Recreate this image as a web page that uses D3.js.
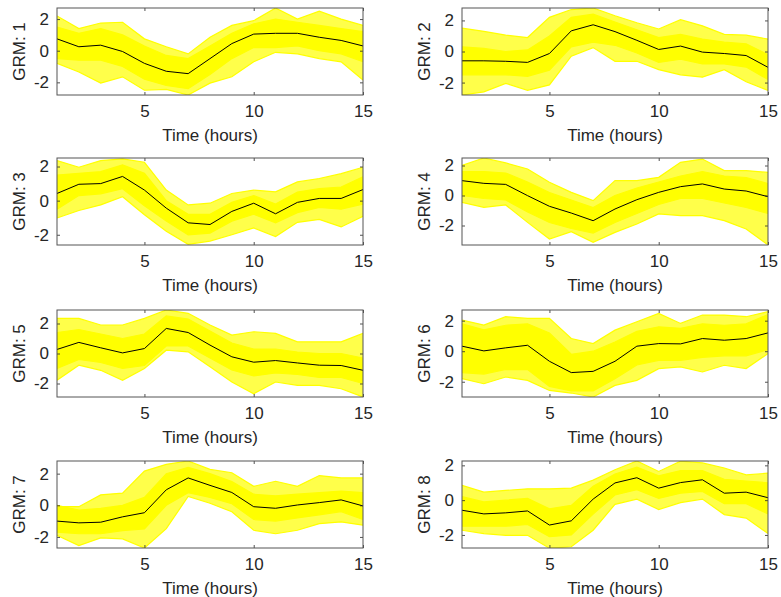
<!DOCTYPE html>
<html>
<head>
<meta charset="utf-8">
<script src="https://cdn.jsdelivr.net/npm/d3@7"></script>
<style>
  body { margin: 0; background: #fff; }
  text { font-family: Helvetica, "Liberation Sans", Arial, sans-serif; fill: #262626; }
</style>
</head>
<body>
<div id="chart"></div>
<script>
// time points (hours)
var times = [1, 2, 3, 4, 5, 6, 7, 8, 9, 10, 11, 12, 13, 14, 15];
var panelNames = ["GRM: 1", "GRM: 2", "GRM: 3", "GRM: 4", "GRM: 5", "GRM: 6", "GRM: 7", "GRM: 8"];
var xTicks = [5, 10, 15];
var yTicks = [-2, 0, 2];

// y limits of every panel (axis tight)
var yLimits = [
  [-2.8, 2.7], [-2.8, 2.8], [-2.6, 2.5], [-3.3, 2.5],
  [-2.9, 2.9], [-3.0, 2.7], [-2.7, 2.8], [-2.75, 2.25]
];

// black line: mean profile of each module
var meanProfiles = [
  [0.75, 0.25, 0.35, -0.05, -0.8, -1.3, -1.45, -0.5, 0.45, 1.05, 1.1, 1.1, 0.85, 0.65, 0.3],
  [-0.6, -0.6, -0.63, -0.7, -0.13, 1.33, 1.72, 1.28, 0.72, 0.13, 0.35, -0.04, -0.13, -0.26, -1.02],
  [0.42, 0.96, 1.0, 1.42, 0.62, -0.44, -1.3, -1.4, -0.63, -0.15, -0.77, -0.1, 0.13, 0.13, 0.65],
  [0.99, 0.81, 0.74, -0.01, -0.72, -1.17, -1.68, -0.9, -0.28, 0.21, 0.59, 0.77, 0.43, 0.3, -0.08],
  [0.27, 0.74, 0.38, 0.04, 0.33, 1.67, 1.4, 0.56, -0.22, -0.58, -0.47, -0.63, -0.78, -0.8, -1.12],
  [0.33, 0.02, 0.22, 0.39, -0.66, -1.4, -1.32, -0.66, 0.33, 0.5, 0.48, 0.83, 0.72, 0.83, 1.2],
  [-1.0, -1.11, -1.07, -0.73, -0.47, 0.98, 1.73, 1.26, 0.81, -0.09, -0.19, 0.02, 0.17, 0.34, -0.04],
  [-0.58, -0.79, -0.73, -0.62, -1.43, -1.19, 0.06, 0.99, 1.29, 0.69, 1.01, 1.17, 0.4, 0.46, 0.14]
];

// outermost yellow profiles (highest / lowest gene at each time)
var upperEdge = [
  [2.2, 1.4, 1.75, 1.8, 0.75, 0.25, -0.2, 0.85, 1.6, 1.9, 2.7, 2.0, 2.5, 2.0, 1.6],
  [1.5, 1.3, 1.05, 0.9, 2.2, 2.7, 2.8, 2.3, 1.85, 1.45, 2.05, 1.65, 1.1, 1.05, 0.8],
  [2.35, 1.96, 2.35, 2.45, 2.25, 0.62, -0.25, -0.15, 0.42, 0.62, 0.52, 1.1, 1.3, 1.58, 1.96],
  [2.0, 2.5, 2.17, 1.77, 0.88, 0.21, -0.34, 0.99, 0.99, 1.21, 2.21, 2.43, 1.66, 1.66, 1.54],
  [2.34, 2.34, 1.9, 1.9, 2.34, 2.9, 2.68, 1.9, 1.23, 1.45, 1.34, 0.78, 0.78, 0.78, 1.34],
  [2.04, 1.71, 2.26, 2.15, 2.15, 0.83, 0.5, 1.38, 1.93, 2.48, 1.82, 2.37, 2.37, 2.26, 2.59],
  [-0.09, -0.09, 0.66, 0.77, 2.16, 2.59, 2.8, 2.27, 2.06, 1.2, 1.52, 1.2, 1.88, 1.73, 1.73],
  [0.85, 0.46, 0.56, 0.65, 0.65, 0.69, 1.15, 1.75, 2.25, 1.65, 2.24, 2.14, 1.85, 1.45, 1.55]
];
var lowerEdge = [
  [-0.8, -1.35, -2.05, -1.65, -2.5, -2.45, -2.8, -2.05, -1.65, -0.7, -0.1, -0.2, -0.5, -0.7, -1.85],
  [-2.8, -2.6, -2.05, -2.5, -2.15, -0.3, 0.25, -0.63, -0.63, -1.17, -1.5, -1.65, -1.17, -1.95, -2.5],
  [-1.02, -0.58, -0.25, 0.23, -0.83, -1.8, -2.56, -2.37, -2.0, -1.6, -2.1, -1.27, -1.1, -1.54, -0.92],
  [-0.46, -0.79, -0.63, -1.79, -2.9, -2.41, -3.12, -2.46, -1.9, -1.23, -1.34, -1.34, -1.68, -2.23, -3.3],
  [-1.79, -0.78, -1.12, -1.79, -1.0, 0.22, 0.11, -0.89, -1.9, -2.68, -1.9, -2.12, -2.12, -2.35, -2.9],
  [-1.8, -2.13, -1.69, -1.91, -2.57, -2.74, -3.0, -2.24, -1.91, -1.14, -1.03, -1.36, -0.92, -1.14, -0.15],
  [-1.9, -2.55, -2.06, -2.12, -2.7, -1.48, 0.56, 0.13, -0.41, -1.58, -1.8, -1.58, -1.16, -1.05, -1.26],
  [-1.73, -1.92, -2.02, -2.02, -2.76, -2.68, -1.73, -0.24, 0.06, -0.54, -0.14, 0.06, -0.83, -1.03, -1.92]
];

// dense (solid yellow) part of the bundle
var coreUpper = [
  [1.5, 1.1, 1.4, 1.0, 0.3, -0.3, -0.5, 0.3, 1.1, 1.7, 2.0, 1.8, 1.6, 1.4, 1.2],
  [0.3, 0.2, 0.0, 0.1, 1.0, 2.2, 2.4, 1.9, 1.4, 0.9, 1.1, 0.8, 0.6, 0.5, -0.2],
  [1.5, 1.6, 1.7, 2.1, 1.6, 0.0, -0.8, -0.8, -0.1, 0.3, -0.2, 0.5, 0.7, 0.8, 1.4],
  [1.6, 1.6, 1.5, 0.9, 0.2, -0.3, -0.8, 0.0, 0.5, 0.9, 1.3, 1.6, 1.3, 1.2, 0.8],
  [1.4, 1.6, 1.3, 1.0, 1.3, 2.5, 2.3, 1.5, 0.7, 0.3, 0.3, 0.1, 0.0, 0.0, -0.3],
  [1.8, 1.4, 1.7, 1.8, 1.2, -0.2, 0.0, 0.6, 1.3, 1.6, 1.5, 1.8, 1.7, 1.8, 2.4],
  [0.0, -0.3, -0.2, 0.0, 0.5, 2.0, 2.4, 2.0, 1.5, 0.7, 0.6, 0.7, 0.8, 0.9, 0.8],
  [0.2, -0.1, 0.0, 0.1, -0.5, -0.3, 0.8, 1.5, 1.9, 1.4, 1.7, 1.7, 1.2, 1.1, 1.0]
];
var coreLower = [
  [-0.5, -0.6, -0.6, -1.0, -1.8, -2.2, -2.4, -1.5, -0.5, 0.2, 0.2, 0.3, 0.0, -0.2, -0.7],
  [-1.5, -1.5, -1.5, -1.6, -1.2, 0.3, 0.6, 0.4, -0.1, -0.7, -0.5, -0.8, -0.8, -1.0, -1.8],
  [-0.5, 0.3, 0.4, 0.7, -0.3, -1.2, -2.0, -1.9, -1.2, -0.8, -1.3, -0.7, -0.4, -0.5, -0.2],
  [0.0, -0.2, -0.3, -1.1, -1.8, -2.2, -2.5, -1.8, -1.2, -0.6, -0.2, -0.2, -0.5, -0.8, -1.2],
  [-1.0, -0.4, -0.6, -1.0, -0.8, 0.5, 0.5, -0.3, -1.1, -1.5, -1.3, -1.4, -1.6, -1.6, -2.0],
  [-1.4, -1.5, -1.2, -1.2, -2.3, -2.6, -2.6, -1.8, -0.9, -0.6, -0.6, -0.4, -0.3, -0.3, 0.1],
  [-1.7, -1.8, -1.8, -1.6, -1.5, 0.0, 0.8, 0.5, 0.1, -0.9, -1.0, -0.8, -0.6, -0.4, -0.9],
  [-1.5, -1.5, -1.5, -1.4, -2.1, -2.0, -0.8, 0.3, 0.6, 0.1, 0.4, 0.5, -0.2, -0.2, -0.8]
];

var svgWidth = 781;
var svgHeight = 597;
var colLeft = [57, 462];
var rowTop = [8, 158, 310, 461];
var plotWidth = 306;
var plotHeight = 87;

var svg = d3.select("#chart")
  .append("svg")
  .attr("width", svgWidth)
  .attr("height", svgHeight);

var x = d3.scaleLinear()
  .domain([1, 15])
  .range([0, plotWidth]);

panelNames.forEach(function(name, i) {
  var left = colLeft[i % 2];
  var top = rowTop[Math.floor(i / 2)];

  var y = d3.scaleLinear()
    .domain(yLimits[i])
    .range([plotHeight, 0]);

  var g = svg.append("g")
    .attr("transform", `translate(${left}, ${top})`);

  g.append("clipPath")
    .attr("id", "clip" + i)
    .append("rect")
    .attr("width", plotWidth)
    .attr("height", plotHeight);

  var plot = g.append("g").attr("clip-path", `url(#clip${i})`);

  // thin fringe of the bundle
  var outerArea = d3.area()
    .x((d, j) => x(times[j]))
    .y0((d, j) => y(lowerEdge[i][j]))
    .y1(d => y(d));
  plot.append("path")
    .attr("d", outerArea(upperEdge[i]))
    .attr("fill", "#ffff4a");

  var coreArea = d3.area()
    .x((d, j) => x(times[j]))
    .y0((d, j) => y(coreLower[i][j]))
    .y1(d => y(d));
  plot.append("path")
    .attr("d", coreArea(coreUpper[i]))
    .attr("fill", "#ffff00");

  var line = d3.line()
    .x((d, j) => x(times[j]))
    .y(d => y(d));

  [upperEdge[i], lowerEdge[i], coreUpper[i], coreLower[i]].forEach(function(series) {
    plot.append("path")
      .attr("d", line(series))
      .attr("fill", "none")
      .attr("stroke", "#ffff00")
      .attr("stroke-width", 1.2);
  });

  plot.append("path")
    .attr("d", line(meanProfiles[i]))
    .attr("fill", "none")
    .attr("stroke", "#000")
    .attr("stroke-width", 1);

  // axes, ticks inside like matlab
  var bottomAxis = d3.axisBottom(x).tickValues(xTicks).tickSize(-3).tickPadding(10)
    .tickFormat(d => String(d));
  var leftAxis = d3.axisLeft(y).tickValues(yTicks).tickSize(-3).tickPadding(8)
    .tickFormat(d => String(d));

  var xa = g.append("g")
    .attr("transform", `translate(0, ${plotHeight})`)
    .call(bottomAxis);
  var ya = g.append("g").call(leftAxis);

  g.append("g")
    .call(d3.axisTop(x).tickValues(xTicks).tickSize(-3).tickFormat(""));
  g.append("g")
    .attr("transform", `translate(${plotWidth}, 0)`)
    .call(d3.axisRight(y).tickValues(yTicks).tickSize(-3).tickFormat(""));

  g.selectAll(".domain").remove();
  g.selectAll(".tick line").attr("stroke", "#262626").attr("stroke-width", 0.8);
  xa.selectAll("text").attr("font-size", "17px").style("fill", "#262626");
  ya.selectAll("text").attr("font-size", "17px").style("fill", "#262626");

  g.append("rect")
    .attr("width", plotWidth)
    .attr("height", plotHeight)
    .attr("fill", "none")
    .attr("stroke", "#555")
    .attr("stroke-width", 1);

  g.append("text")
    .attr("x", plotWidth / 2)
    .attr("y", plotHeight + 46)
    .attr("text-anchor", "middle")
    .attr("font-size", "17px")
    .text("Time (hours)");

  g.append("text")
    .attr("transform", `translate(-32, ${plotHeight / 2}) rotate(-90)`)
    .attr("text-anchor", "middle")
    .attr("font-size", "17px")
    .text(name);
});
</script>
</body>
</html>
